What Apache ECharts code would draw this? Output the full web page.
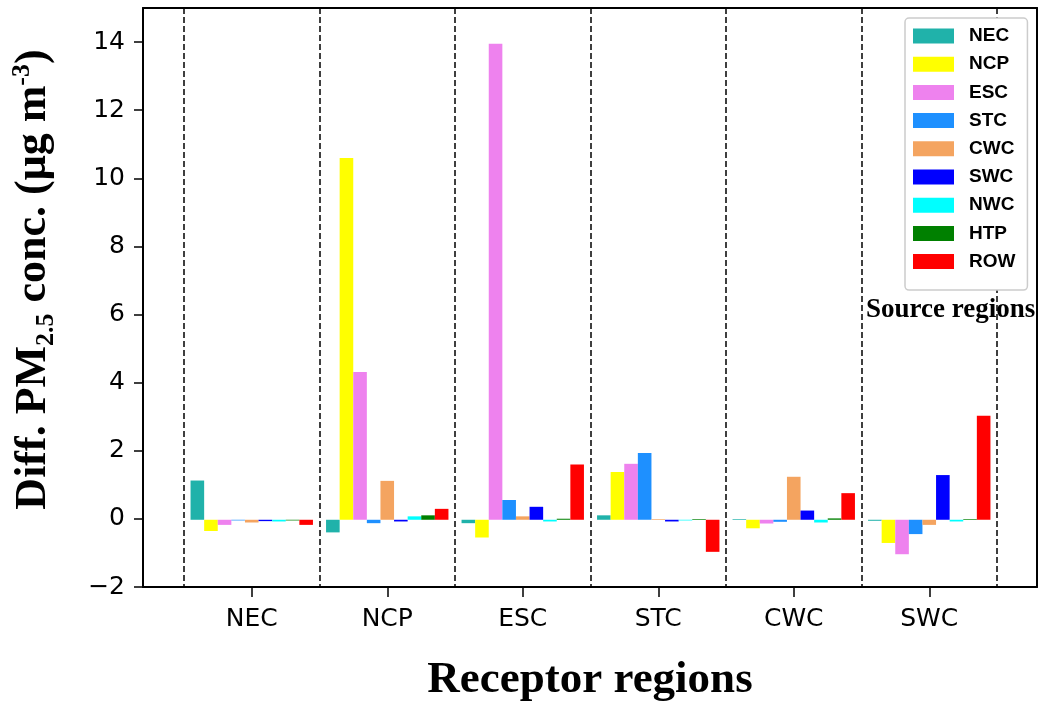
<!DOCTYPE html>
<html>
<head>
<meta charset="utf-8">
<script src="https://cdn.jsdelivr.net/npm/echarts@6/dist/echarts.min.js"></script>
<style>
  html, body { margin: 0; padding: 0; background: #fff; }
  #chart { width: 1039px; height: 708px; }
</style>
</head>
<body>
<div id="chart"></div>
<script>
// receptor regions (x categories)
const receptors = ['NEC', 'NCP', 'ESC', 'STC', 'CWC', 'SWC']
// source regions (one bar series each)
const sources = ['NEC', 'NCP', 'ESC', 'STC', 'CWC', 'SWC', 'NWC', 'HTP', 'ROW']
const colors = ['#20B2AA', '#FFFF00', '#EE82EE', '#1E90FF', '#F4A460', '#0000FF', '#00FFFF', '#008000', '#FF0000']

// values per source region, across receptors
const necVals = [1.15, -0.37, -0.10, 0.13, 0.02, -0.03]
const ncpVals = [-0.33, 10.6, -0.52, 1.40, -0.25, -0.68]
const escVals = [-0.15, 4.33, 13.95, 1.64, -0.11, -1.01]
const stcVals = [-0.02, -0.10, 0.58, 1.96, -0.06, -0.42]
const cwcVals = [-0.08, 1.14, 0.10, 0.02, 1.26, -0.15]
const swcVals = [-0.04, -0.05, 0.38, -0.05, 0.27, 1.31]
const nwcVals = [-0.05, 0.10, -0.05, -0.02, -0.08, -0.05]
const htpVals = [-0.02, 0.13, 0.03, 0.02, 0.04, 0.02]
const rowVals = [-0.15, 0.32, 1.62, -0.94, 0.78, 3.05]
const allVals = [necVals, ncpVals, escVals, stcVals, cwcVals, swcVals, nwcVals, htpVals, rowVals]

const yTicks = [-2, 0, 2, 4, 6, 8, 10, 12, 14]

const chart = echarts.init(document.getElementById('chart'))

const frameLine = { show: true, onZero: false, lineStyle: { color: '#000', width: 2 } }
const hidden = { show: false }

const option = {
  animation: false,
  backgroundColor: '#fff',
  grid: [
    { left: 143, right: 2, top: 8, bottom: 120 },
    { left: 184, width: 813, top: 8, bottom: 120 }
  ],
  legend: {
    data: sources,
    orient: 'vertical',
    left: 905,
    top: 18,
    icon: 'rect',
    itemWidth: 41,
    itemHeight: 15,
    itemGap: 9.2,
    padding: [8.5, 12, 19, 8],
    backgroundColor: '#fff',
    borderColor: '#cccccc',
    borderWidth: 1.5,
    borderRadius: 4,
    textStyle: {
      fontFamily: 'Liberation Sans',
      fontWeight: 'bold',
      fontSize: 19,
      color: '#000',
      padding: [0, 0, 0, 10]
    }
  },
  xAxis: [
    {
      gridIndex: 0, type: 'value', min: 0, max: 1,
      axisLine: frameLine, axisTick: hidden, axisLabel: hidden, splitLine: hidden,
      name: 'Receptor regions',
      nameLocation: 'middle',
      nameGap: 71,
      nameTextStyle: { fontFamily: 'Liberation Serif', fontWeight: 'bold', fontSize: 45, color: '#000' }
    },
    {
      gridIndex: 0, type: 'value', position: 'top', min: 0, max: 1,
      axisLine: frameLine, axisTick: hidden, axisLabel: hidden, splitLine: hidden
    },
    {
      gridIndex: 1, type: 'category', data: receptors, position: 'bottom',
      axisLine: { show: false, onZero: false },
      axisTick: { show: true, alignWithLabel: true, length: 9, lineStyle: { color: '#000', width: 1.5 } },
      axisLabel: { margin: 19, fontFamily: 'DejaVu Sans', fontSize: 25, color: '#000' },
      splitLine: { show: true, lineStyle: { color: '#000', width: 1.5, type: [6, 3] } }
    }
  ],
  yAxis: [
    {
      gridIndex: 0, type: 'value', min: -2, max: 15,
      axisLine: frameLine,
      axisTick: { show: true, length: 9, customValues: yTicks, lineStyle: { color: '#000', width: 1.5 } },
      axisLabel: { margin: 18, customValues: yTicks, fontFamily: 'DejaVu Sans', fontSize: 25, color: '#000',
        formatter: v => (v < 0 ? '\u2212' + Math.abs(v) : String(v)) },
      splitLine: hidden,
      name: '{b|Diff. PM}{sub|2.5}{b| conc. (\u03bcg m}{sup|-3}{b|)}',
      nameLocation: 'middle',
      nameRotate: 90,
      nameGap: 84,
      nameTextStyle: {
        padding: [0, 0, 0, 36],
        rich: {
          b: { fontFamily: 'Liberation Serif', fontWeight: 'bold', fontSize: 44, lineHeight: 50, color: '#000' },
          sub: { fontFamily: 'Liberation Serif', fontWeight: 'bold', fontSize: 26, lineHeight: 20, verticalAlign: 'bottom', color: '#000' },
          sup: { fontFamily: 'Liberation Serif', fontWeight: 'bold', fontSize: 26, lineHeight: 20, verticalAlign: 'top', color: '#000' }
        }
      }
    },
    {
      gridIndex: 0, type: 'value', position: 'right', min: -2, max: 15,
      axisLine: frameLine, axisTick: hidden, axisLabel: hidden, splitLine: hidden
    },
    {
      gridIndex: 1, type: 'value', min: -2, max: 15,
      axisLine: hidden, axisTick: hidden, axisLabel: hidden, splitLine: hidden
    }
  ],
  series: sources.map((name, i) => ({
    name: name,
    type: 'bar',
    xAxisIndex: 2,
    yAxisIndex: 2,
    barWidth: 13.6,
    barGap: '0%',
    itemStyle: { color: colors[i] },
    data: allVals[i]
  })),
  graphic: [
    {
      type: 'text',
      left: 866,
      top: 297,
      style: { text: 'Source regions', fontFamily: 'Liberation Serif', fontWeight: 'bold', fontSize: 27, fill: '#000' }
    }
  ]
}

chart.setOption(option)
</script>
</body>
</html>
